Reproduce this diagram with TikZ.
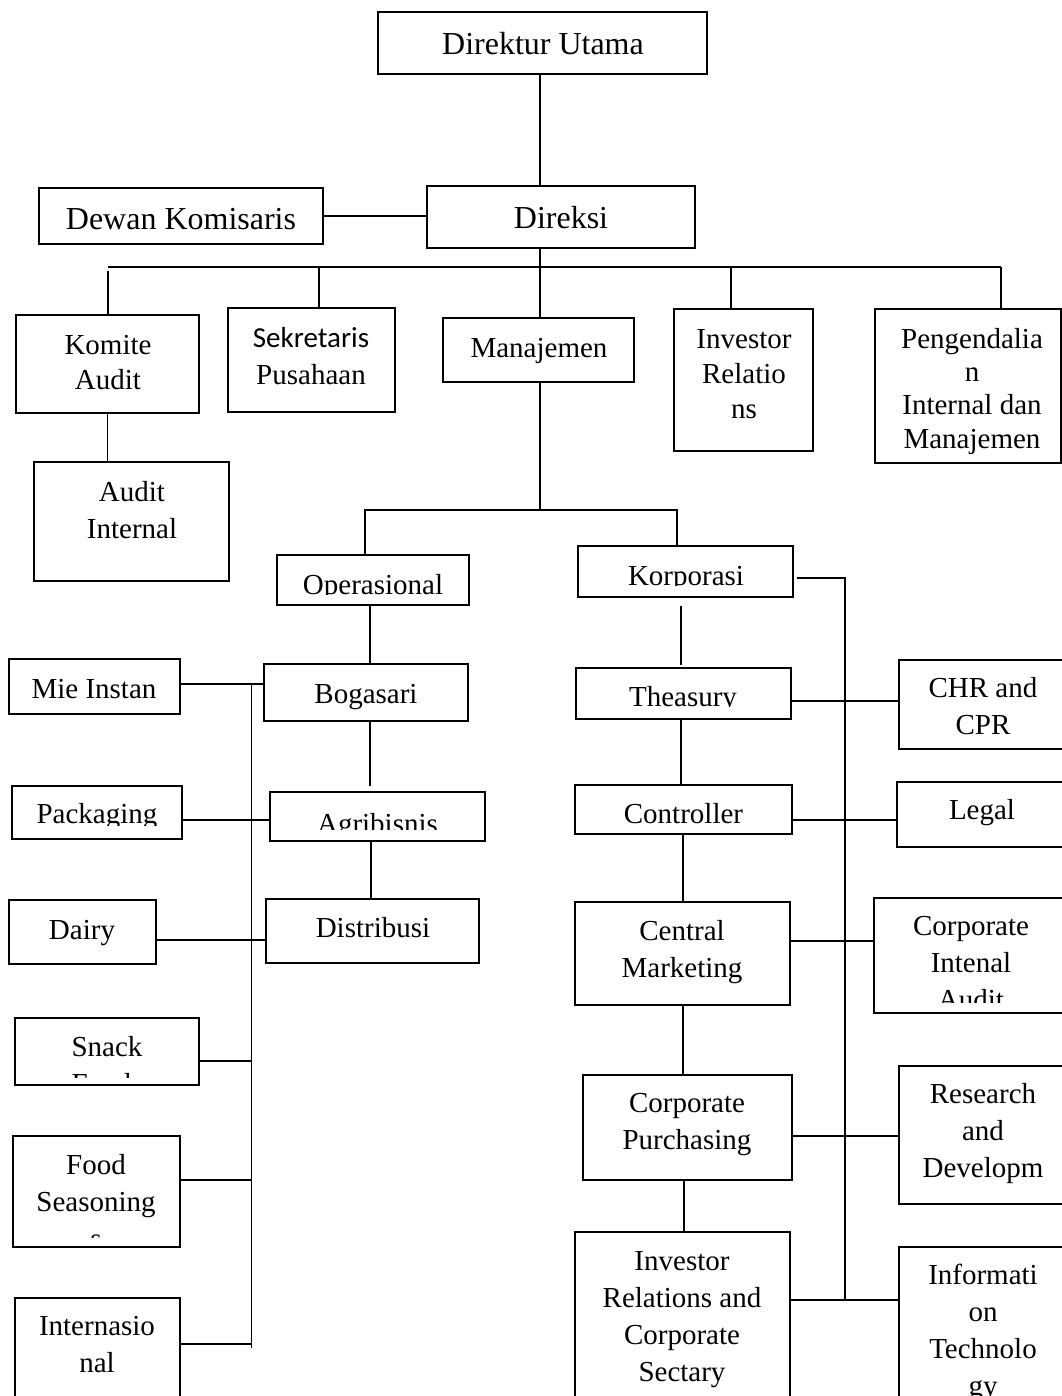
\documentclass[tikz,border=0pt]{standalone}
\usepackage{fontspec}
\setmainfont{Liberation Serif}
\newfontfamily\calib{Carlito}
\newcommand\bx[5]{\node[box,minimum width={(#4-#2)*0.75pt},minimum height={(#5-#3)*0.75pt}] (#1) at ({(#2+#4)/2},{(#3+#5)/2}) {};}
\newcommand\tx[5][]{\node[txt,#1] (#2) at (#3,#4) {\parbox[t]{300pt}{\centering #5}};}
\begin{document}
\begin{tikzpicture}[x=0.75pt,y=-0.75pt,
  box/.style={draw,line width=2.2pt,inner sep=0pt,outer sep=0pt},
  conn/.style={line width=0.9pt},
  txt/.style={inner sep=0pt,anchor=base,font=\fontsize{21.75}{27.75}\selectfont},
  big/.style={font=\fontsize{24}{29}\selectfont},
  tight/.style={font=\fontsize{21.75}{25}\selectfont},
  mid/.style={font=\fontsize{21.75}{26.25}\selectfont}]
\useasboundingbox (0,0) rectangle (1062,1396);
\clip (0,0) rectangle (1062,1396);
\fill[white] (0,0) rectangle (1062,1396);

% boxes
\bx{du}{378}{12}{707}{74}
\bx{dk}{39}{188}{323}{244}
\bx{dir}{427}{186}{695}{248}
\bx{ka}{16}{315}{199}{413}
\bx{sek}{228}{308}{395}{412}
\bx{man}{443}{318}{634}{382}
\bx{ir}{674}{309}{813}{451}
\bx{pim}{875}{309}{1061}{463}
\bx{ai}{34}{462}{229}{581}
\bx{op}{277}{555}{469}{605}
\bx{kor}{578}{546}{793}{597}
\bx{mie}{9}{659}{180}{714}
\bx{bog}{264}{664}{468}{721}
\bx{pack}{12}{786}{182}{839}
\bx{agr}{270}{792}{485}{841}
\bx{dairy}{9}{900}{156}{964}
\bx{dist}{266}{899}{479}{963}
\bx{snack}{15}{1018}{199}{1085}
\bx{food}{13}{1136}{180}{1247}
\bx{intl}{15}{1298}{180}{1420}
\bx{thea}{576}{668}{791}{719}
\bx{chr}{899}{660}{1068}{749}
\bx{ctrl}{575}{785}{792}{834}
\bx{legal}{897}{782}{1068}{847}
\bx{cm}{575}{902}{790}{1005}
\bx{cia}{874}{898}{1068}{1013}
\bx{cp}{583}{1075}{792}{1180}
\bx{rd}{899}{1066}{1068}{1204}
\bx{irc}{575}{1232}{790}{1420}
\bx{it}{899}{1247}{1068}{1420}

% texts
\tx[big]{du-t}{543}{54}{Direktur Utama}
\tx[big]{dk-t}{181}{229}{Dewan Komisaris}
\tx[big]{dir-t}{561}{228}{Direksi}
\tx[mid]{ka-t}{108}{354}{Komite\\Audit}
\tx{sek-t}{311}{347}{{\calib Sekretaris}\\Pusahaan}
\tx{man-t}{539}{357}{Manajemen}
\tx[mid]{ir-t}{744}{348}{Investor\\Relatio\\ns}
\tx[tight]{pim-t}{972}{348}{Pengendalia\\n\\Internal dan\\Manajemen}
\tx{ai-t}{132}{501}{Audit\\Internal}
\begin{scope}
\clip (0,0) rectangle (1062,594.5);
\tx{op-t}{373}{594}{Operasional}
\end{scope}
\begin{scope}
\clip (0,0) rectangle (1062,585);
\tx{kor-t}{686}{585}{Korporasi}
\end{scope}
\tx{mie-t}{94}{698}{Mie Instan}
\tx{bog-t}{366}{703}{Bogasari}
\begin{scope}
\clip (0,780) rectangle (1062,825);
\tx{pack-t}{97}{823}{Packaging}
\end{scope}
\begin{scope}
\clip (0,780) rectangle (1062,829);
\tx{agr-t}{377.5}{833}{Agribisnis}
\end{scope}
\tx{dairy-t}{82}{939}{Dairy}
\tx{dist-t}{373}{937}{Distribusi}
\begin{scope}
\clip (0,1000) rectangle (1062,1077);
\tx{snack-t}{107}{1056}{Snack\\Foods}
\end{scope}
\begin{scope}
\clip (0,1100) rectangle (1062,1237);
\tx{food-t}{96}{1174}{Food\\Seasoning\\s}
\end{scope}
\tx{intl-t}{97}{1335}{Internasio\\nal}
\begin{scope}
\clip (0,600) rectangle (1062,706.5);
\tx{thea-t}{683}{706}{Theasury}
\end{scope}
\tx{chr-t}{983}{697}{CHR and\\CPR}
\tx{ctrl-t}{683.5}{823}{Controller}
\tx{legal-t}{982}{819}{Legal}
\tx{cm-t}{682}{940}{Central\\Marketing}
\begin{scope}
\clip (0,890) rectangle (1062,1002);
\tx{cia-t}{971}{935}{Corporate\\Intenal\\Audit}
\end{scope}
\tx{cp-t}{687}{1112}{Corporate\\Purchasing}
\tx{rd-t}{983}{1103}{Research\\and\\Developm}
\tx{irc-t}{682}{1270}{Investor\\Relations and\\Corporate\\Sectary}
\tx{it-t}{983}{1284}{Informati\\on\\Technolo\\gy}

% coordinates for buses
\coordinate (cx) at (540,267);
\coordinate (busL) at (108,267);
\coordinate (busR) at (1001,267);
\coordinate (s1) at (319,267);
\coordinate (s2) at (731,267);
\coordinate (m2) at (540,510);
\coordinate (m2L) at (365,510);
\coordinate (m2R) at (677,510);
\coordinate (lx) at (370,0);
\coordinate (lx2) at (371,0);
\coordinate (lbT) at (251.5,684);
\coordinate (lbB) at (251.5,1348);
\coordinate (ypk) at (0,820);
\coordinate (yd) at (0,940);
\coordinate (ys) at (0,1061);
\coordinate (yf) at (0,1180);
\coordinate (yi) at (0,1344);
\coordinate (rb1) at (845,578);
\coordinate (rb2) at (845,1300);
\coordinate (rx1) at (681,0);
\coordinate (rx2) at (683,0);
\coordinate (rx3) at (684,0);
\coordinate (y1) at (0,701);
\coordinate (y2) at (0,820);
\coordinate (y3) at (0,941);
\coordinate (y4) at (0,1136);

% connectors top
\draw[conn] (du.south -| cx) -- (dir.north -| cx);
\draw[conn] (dk.east) -- (dk.east -| dir.west);
\draw[conn] (busL) -- (busR);
\draw[conn] (dir.south -| cx) -- (man.north -| cx);
\draw[conn,shorten <=3pt] (busL) -- (ka.north -| busL);
\draw[conn] (s1) -- (sek.north -| s1);
\draw[conn] (s2) -- (ir.north -| s2);
\draw[conn] (busR) -- (pim.north -| busR);
\draw[conn] (ka.south) -- (ai.north -| ka.south);
\draw[conn] (man.south -| m2) -- (m2);
\draw[conn] (op.north -| m2L) -- (m2L) -- (m2R) -- (kor.north -| m2R);

% left branch
\draw[conn] (op.south -| lx) -- (bog.north -| lx);
\draw[conn,shorten >=4.5pt] (bog.south -| lx) -- (agr.north -| lx);
\draw[conn] (agr.south -| lx2) -- (dist.north -| lx2);
\draw[conn] (lbT) -- (lbB);
\draw[conn] (mie.east |- lbT) -- (bog.west |- lbT);
\draw[conn] (pack.east |- ypk) -- (agr.west |- ypk);
\draw[conn] (dairy.east |- yd) -- (dist.west |- yd);
\draw[conn] (snack.east |- ys) -- (lbT |- ys);
\draw[conn] (food.east |- yf) -- (lbT |- yf);
\draw[conn] (intl.east |- yi) -- (lbT |- yi);

% right branch
\draw[conn,shorten <=6.5pt,shorten >=2pt] (kor.south -| rx1) -- (thea.north -| rx1);
\draw[conn] (thea.south -| rx1) -- (ctrl.north -| rx1);
\draw[conn] (ctrl.south -| rx2) -- (cm.north -| rx2);
\draw[conn] (cm.south -| rx2) -- (cp.north -| rx2);
\draw[conn] (cp.south -| rx3) -- (irc.north -| rx3);
\draw[conn,shorten <=3pt] (kor.east |- rb1) -- (rb1) -- (rb2);
\draw[conn] (thea.east |- y1) -- (chr.west |- y1);
\draw[conn] (ctrl.east |- y2) -- (legal.west |- y2);
\draw[conn] (cm.east |- y3) -- (cia.west |- y3);
\draw[conn] (cp.east |- y4) -- (rd.west |- y4);
\draw[conn] (irc.east |- rb2) -- (it.west |- rb2);
\end{tikzpicture}
\end{document}
